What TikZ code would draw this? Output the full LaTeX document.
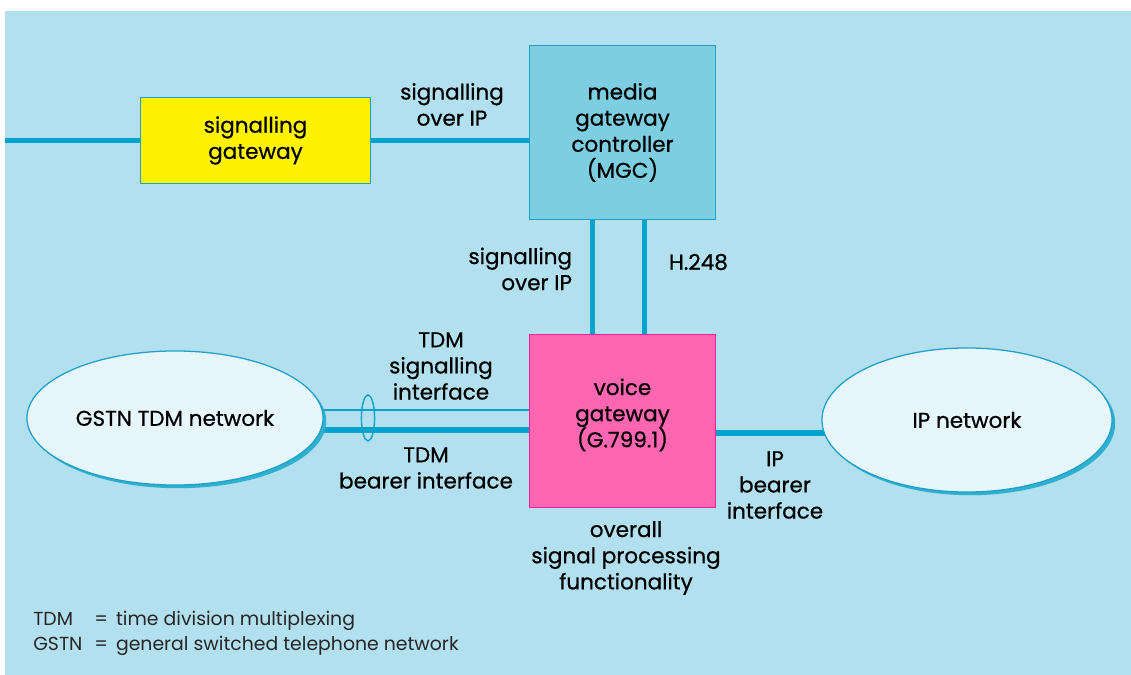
\documentclass[tikz,border=0pt]{standalone}
\usepackage{fontspec}
\setmainfont{Poppins}
\newfontfamily\labelfont{Poppins}[FakeBold=0.6]
\usetikzlibrary{shapes.geometric,shadows,backgrounds}
\definecolor{bgblue}{RGB}{178,224,238}
\definecolor{linkblue}{RGB}{0,163,204}
\definecolor{mgcblue}{RGB}{126,206,226}
\definecolor{netfill}{RGB}{230,246,250}
\definecolor{netline}{RGB}{30,160,200}
\definecolor{netshadow}{RGB}{48,176,208}
\definecolor{vgpink}{RGB}{255,102,178}
\definecolor{vgline}{RGB}{255,30,150}
\tikzset{
  lbl/.style={align=center,font=\labelfont\fontsize{15.3}{18.6}\selectfont,text=black},
  box/.style={draw=netline,line width=0.7pt,minimum width=4.625cm,minimum height=4.33cm,lbl},
  net/.style={ellipse,draw=netline,fill=netfill,line width=0.9pt,lbl,
    drop shadow={shadow xshift=0.08cm,shadow yshift=-0.08cm,fill=netshadow,opacity=1}},
  thick link/.style={draw=linkblue,line width=3.6pt},
  thin link/.style={draw=linkblue,line width=0.9pt}
}
\begin{document}
\begin{tikzpicture}[x=0.025cm,y=-0.025cm]
\useasboundingbox (0,0) rectangle (1131,675);
% boxes
\node[box,fill=yellow,minimum width=5.725cm,minimum height=2.125cm] (sg) at (255.5,140.5) {signalling\\gateway};
\node[box,fill=mgcblue] (mgc) at (622.5,132.5) {media\\gateway\\controller\\(MGC)};
\node[box,fill=vgpink,draw=vgline] (vg) at (622.5,421) {};
\node[lbl] (vgtext) at (622.5,415) {voice\\gateway\\(G.799.1)};
% networks
\node[net,minimum width=7.4cm,minimum height=3.35cm] (gstn) at (175,418) {GSTN TDM network};
\node[net,minimum width=7.25cm,minimum height=3.6cm] (ip) at (967,420) {IP network};
\node[draw=linkblue,line width=1pt,ellipse,minimum width=0.33cm,minimum height=1.15cm,inner sep=0pt] (bundle) at (368,418) {};
% labels
\node[lbl] (sigip) at (452,104.5) {signalling\\over IP};
\node[lbl,align=right,anchor=east] (sigip2) at (577,269) {signalling\\over IP};
\node[lbl,anchor=west] (h248) at (664,262) {H.248};
\node[lbl] (tdmsig) at (441,366) {TDM\\signalling\\interface};
\node[lbl] (tdmbear) at (426,468) {TDM\\bearer interface};
\node[lbl] (ipbear) at (775,485) {IP\\bearer\\interface};
\node[lbl] (overall) at (626,558) {overall\\signal processing\\functionality};
\node[anchor=north west,inner sep=0pt,font=\fontsize{13.4}{17.6}\selectfont,text=black!85] (legend) at (33,608)
  {\begin{tabular}{@{}l@{\hspace{0.3cm}}l@{\hspace{0.2cm}}l@{}}TDM & = & time division multiplexing\\GSTN & = & general switched telephone network\end{tabular}};
% links
\coordinate (lineend) at (5,140.5);
\begin{scope}[on background layer]
\fill[bgblue] (5,11) rectangle (1131,675);
\draw[thick link] (lineend) -- (sg.west);
\draw[thick link] (sg.east) -- (sg.east -| mgc.west);
\draw[thick link] ([xshift=-0.74cm]mgc.south) -- ([xshift=-0.74cm]vg.north);
\draw[thick link] ([xshift=0.56cm]mgc.south) -- ([xshift=0.56cm]vg.north);
\draw[thin link] ([yshift=0.275cm]vg.west) -- ([yshift=0.275cm]vg.west -| gstn.center);
\draw[thick link] ([yshift=-0.225cm]vg.west) -- ([yshift=-0.225cm]vg.west -| gstn.center);
\draw[thick link] ([yshift=-0.3cm]vg.east) -- ([yshift=-0.3cm]vg.east -| ip.center);
\end{scope}
\end{tikzpicture}
\end{document}
